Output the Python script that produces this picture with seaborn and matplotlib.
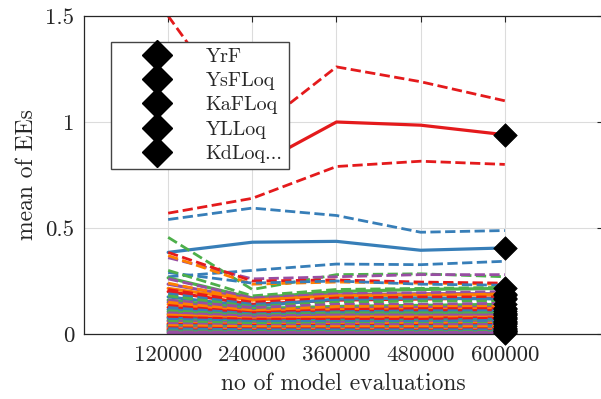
import matplotlib
matplotlib.use("Agg")
import matplotlib.pyplot as plt
from matplotlib.lines import Line2D
import seaborn as sns

# number of model evaluations used for each estimate
n_evals = [120000, 240000, 360000, 480000, 600000]

legend_names = ["YrF", "YsFLoq", "KaFLoq", "YLLoq", "KdLoq..."]

# mean of elementary effects per parameter (rows) for each sample size (cols)
mean_ee = [
    [1.03, 0.785, 1.00, 0.985, 0.94],
    [0.385, 0.433, 0.437, 0.395, 0.406],
    [0.265, 0.17, 0.20, 0.21, 0.215],
    [0.235, 0.165, 0.185, 0.19, 0.19],
    [0.215, 0.16, 0.18, 0.185, 0.185],
    [0.20, 0.14, 0.16, 0.165, 0.17],
    [0.175, 0.13, 0.165, 0.17, 0.165],
    [0.16, 0.12, 0.13, 0.135, 0.14],
    [0.15, 0.11, 0.12, 0.125, 0.125],
    [0.14, 0.105, 0.115, 0.115, 0.12],
    [0.125, 0.10, 0.105, 0.11, 0.11],
    [0.115, 0.09, 0.10, 0.10, 0.10],
    [0.105, 0.085, 0.09, 0.095, 0.095],
    [0.095, 0.08, 0.085, 0.085, 0.09],
    [0.09, 0.07, 0.08, 0.08, 0.08],
    [0.08, 0.065, 0.07, 0.075, 0.075],
    [0.075, 0.06, 0.065, 0.065, 0.07],
    [0.065, 0.055, 0.06, 0.06, 0.06],
    [0.06, 0.05, 0.055, 0.055, 0.055],
    [0.05, 0.045, 0.045, 0.05, 0.05],
    [0.045, 0.04, 0.04, 0.04, 0.045],
    [0.04, 0.035, 0.035, 0.035, 0.04],
    [0.035, 0.03, 0.03, 0.03, 0.03],
    [0.03, 0.025, 0.025, 0.025, 0.025],
    [0.025, 0.02, 0.02, 0.02, 0.02],
    [0.02, 0.015, 0.015, 0.015, 0.015],
    [0.015, 0.012, 0.012, 0.012, 0.012],
    [0.01, 0.008, 0.008, 0.008, 0.008],
    [0.005, 0.004, 0.004, 0.004, 0.004],
]

# lower confidence bound of the mean
lower_ee = [
    [0.57, 0.64, 0.79, 0.815, 0.80],
    [0.27, 0.30, 0.33, 0.327, 0.343],
    [0.11, 0.075, 0.12, 0.118, 0.11],
    [0.10, 0.06, 0.09, 0.09, 0.095],
    [0.09, 0.055, 0.08, 0.085, 0.085],
    [0.08, 0.05, 0.07, 0.075, 0.08],
    [0.07, 0.05, 0.075, 0.08, 0.075],
    [0.06, 0.045, 0.05, 0.055, 0.06],
    [0.055, 0.04, 0.045, 0.05, 0.05],
    [0.05, 0.035, 0.04, 0.04, 0.045],
    [0.045, 0.035, 0.04, 0.04, 0.04],
    [0.04, 0.03, 0.035, 0.035, 0.035],
    [0.035, 0.03, 0.03, 0.035, 0.035],
    [0.03, 0.025, 0.03, 0.03, 0.03],
    [0.03, 0.02, 0.025, 0.025, 0.025],
    [0.025, 0.02, 0.02, 0.025, 0.025],
    [0.02, 0.018, 0.02, 0.02, 0.02],
    [0.02, 0.015, 0.018, 0.018, 0.018],
    [0.015, 0.012, 0.015, 0.015, 0.015],
    [0.012, 0.01, 0.012, 0.012, 0.012],
    [0.01, 0.01, 0.01, 0.01, 0.01],
    [0.008, 0.008, 0.008, 0.008, 0.008],
    [0.006, 0.006, 0.006, 0.006, 0.006],
    [0.005, 0.004, 0.004, 0.004, 0.004],
    [0.004, 0.003, 0.003, 0.003, 0.003],
    [0.003, 0.002, 0.002, 0.002, 0.002],
    [0.002, 0.002, 0.002, 0.002, 0.002],
    [0.001, 0.001, 0.001, 0.001, 0.001],
    [0.0005, 0.0005, 0.0005, 0.0005, 0.0005],
]

# upper confidence bound of the mean
upper_ee = [
    [1.50, 0.95, 1.26, 1.19, 1.10],
    [0.54, 0.594, 0.559, 0.48, 0.488],
    [0.456, 0.21, 0.28, 0.284, 0.27],
    [0.36, 0.26, 0.27, 0.28, 0.28],
    [0.37, 0.235, 0.245, 0.24, 0.235],
    [0.385, 0.25, 0.255, 0.245, 0.24],
    [0.29, 0.24, 0.25, 0.235, 0.23],
    [0.30, 0.18, 0.21, 0.215, 0.22],
    [0.26, 0.17, 0.19, 0.195, 0.20],
    [0.24, 0.16, 0.18, 0.18, 0.19],
    [0.21, 0.15, 0.17, 0.175, 0.175],
    [0.19, 0.14, 0.16, 0.16, 0.165],
    [0.18, 0.13, 0.15, 0.155, 0.155],
    [0.16, 0.125, 0.14, 0.14, 0.145],
    [0.15, 0.11, 0.13, 0.13, 0.13],
    [0.135, 0.10, 0.115, 0.12, 0.12],
    [0.125, 0.095, 0.105, 0.11, 0.11],
    [0.11, 0.09, 0.10, 0.10, 0.10],
    [0.10, 0.085, 0.09, 0.09, 0.09],
    [0.09, 0.075, 0.08, 0.08, 0.08],
    [0.08, 0.07, 0.07, 0.07, 0.075],
    [0.07, 0.06, 0.06, 0.06, 0.065],
    [0.06, 0.05, 0.05, 0.05, 0.05],
    [0.05, 0.04, 0.045, 0.045, 0.045],
    [0.04, 0.035, 0.035, 0.035, 0.035],
    [0.03, 0.025, 0.025, 0.025, 0.025],
    [0.025, 0.02, 0.02, 0.02, 0.02],
    [0.015, 0.012, 0.012, 0.012, 0.012],
    [0.01, 0.008, 0.008, 0.008, 0.008],
]

sns.set_theme(style="white")
plt.rcParams["font.family"] = ["serif"]
plt.rcParams["font.serif"] = ["cmr10"]
plt.rcParams["mathtext.fontset"] = "cm"
plt.rcParams["axes.formatter.use_mathtext"] = True
plt.rcParams["axes.unicode_minus"] = False

palette = list(sns.color_palette("Set1", 5))

fig = plt.figure(figsize=(6.01, 3.99), dpi=100)
ax = fig.add_axes([84 / 601, 65 / 399, 519 / 601, 318 / 399])

for i in range(len(mean_ee)):
    c = palette[i % 5]
    sns.lineplot(x=n_evals, y=mean_ee[i], color=c, lw=2.3, ax=ax, legend=False)
    sns.lineplot(x=n_evals, y=lower_ee[i], color=c, lw=2.0, ls="--", ax=ax, legend=False)
    sns.lineplot(x=n_evals, y=upper_ee[i], color=c, lw=2.0, ls="--", ax=ax, legend=False)

final_means = [row[-1] for row in mean_ee]
sns.scatterplot(x=[n_evals[-1]] * len(final_means), y=final_means, marker="D",
                s=12 ** 2, color="black", edgecolor="black", linewidth=0.5,
                ax=ax, legend=False, zorder=5, clip_on=False)

ax.set_xlim(0, 740000)
ax.set_ylim(0, 1.5)
ax.set_xticks(n_evals)
ax.set_xticklabels([str(v) for v in n_evals])
ax.set_yticks([0, 0.5, 1, 1.5])
ax.set_yticklabels(["0", "0.5", "1", "1.5"])
ax.grid(True, color="#dcdcdc", lw=0.8)
ax.set_axisbelow(True)
for s in ax.spines.values():
    s.set_visible(True)
    s.set_color("#262626")
    s.set_linewidth(0.9)
ax.tick_params(direction="in", length=4, width=0.8, color="#262626",
               top=True, right=True, labelsize=16.5, labelcolor="#262626")
ax.tick_params(axis="x", pad=8)
ax.tick_params(axis="y", pad=7)
ax.set_xlabel("no of model evaluations", fontsize=17, color="#262626", labelpad=6)
ax.set_ylabel("mean of EEs", fontsize=17, color="#262626", labelpad=5)

handles = [Line2D([], [], ls="none", marker="D", color="black", ms=15)
           for _ in legend_names]
leg = ax.legend(handles, legend_names, loc="upper left",
                bbox_to_anchor=(27 / 519, 292 / 318), borderaxespad=0,
                fontsize=14.5, frameon=True, fancybox=False, framealpha=1,
                edgecolor="#444444", labelspacing=0.3, handlelength=4.0,
                handletextpad=0.4, borderpad=0.3)
leg.get_frame().set_linewidth(1.0)
leg.set_zorder(10)

fig.savefig("out.png", dpi=100)
